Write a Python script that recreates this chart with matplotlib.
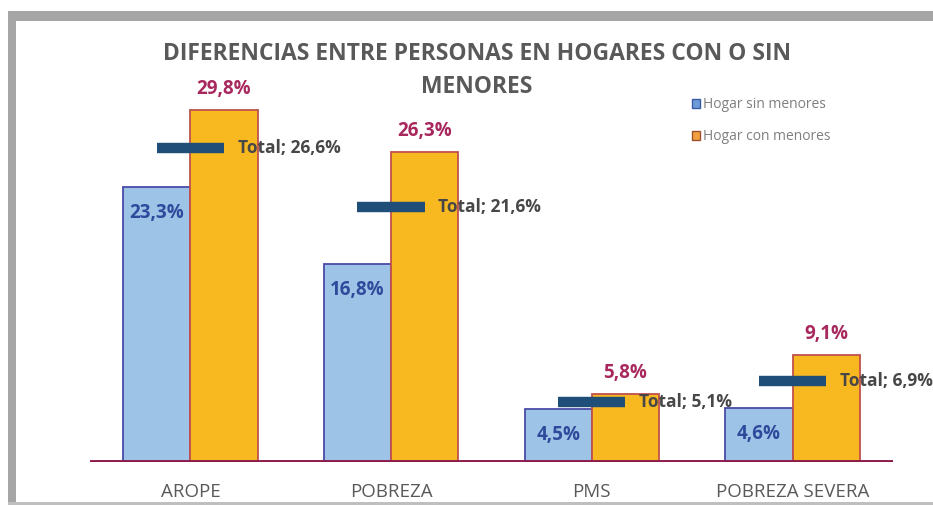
import matplotlib
matplotlib.use("Agg")
import numpy as np
from matplotlib import pyplot as plt
from matplotlib.patches import Rectangle, Patch

# data
categories = ["AROPE", "POBREZA", "PMS", "POBREZA SEVERA"]
sin_menores = [23.3, 16.8, 4.5, 4.6]
con_menores = [29.8, 26.3, 5.8, 9.1]
total = [26.6, 21.6, 5.1, 6.9]
series_names = ["Hogar sin menores", "Hogar con menores"]
title_lines = ["DIFERENCIAS ENTRE PERSONAS EN HOGARES CON O SIN", "MENORES"]


def fmt(v):
    return f"{v:.1f}%".replace(".", ",")


FONT = ["Open Sans", "DejaVu Sans"]
plt.rcParams["font.family"] = FONT

fig = plt.figure(figsize=(9.33, 5.05), dpi=100)
ax = fig.add_axes([0.0965, 0.085, 0.8605, 0.713])

x = np.arange(len(categories))
w = 0.335
b1 = ax.bar(x - w / 2, sin_menores, w, color="#9DC3E6", edgecolor="#4B4BA6",
            linewidth=1.3, label=series_names[0], zorder=2)
b2 = ax.bar(x + w / 2, con_menores, w, color="#F8B81F", edgecolor="#C0504D",
            linewidth=1.3, label=series_names[1], zorder=2)

# total markers
ax.hlines(total, x - w / 2, x + w / 2, color="#1F4E79", linewidth=7.5, zorder=3)
for xi, t in zip(x, total):
    ax.text(xi + 0.235, t, f"Total; {fmt(t)}", va="center", ha="left",
            fontsize=12.5, fontweight="bold", color="#474747", zorder=4)

for rect, v in zip(b1, sin_menores):
    ax.annotate(fmt(v), (rect.get_x() + rect.get_width() / 2, v),
                xytext=(0, -19), textcoords="offset points", ha="center",
                va="center", fontsize=13.5, fontweight="bold", color="#2F4A9C", zorder=4)
for rect, v in zip(b2, con_menores):
    ax.annotate(fmt(v), (rect.get_x() + rect.get_width() / 2, v),
                xytext=(0, 15), textcoords="offset points", ha="center",
                va="center", fontsize=13.5, fontweight="bold", color="#A8285E", zorder=4)

ax.axhline(0, color="#8B1A4A", linewidth=3.5, zorder=3)
ax.set_xlim(-0.5, 3.5)
ax.set_ylim(0, 30.5)
ax.set_xticks(x)
ax.set_xticklabels(categories, fontsize=13.5, color="#595959")
ax.tick_params(axis="x", length=0, pad=15)
ax.set_yticks([])
for s in ax.spines.values():
    s.set_visible(False)

fig.text(0.511, 1 - 54 / 505, title_lines[0], ha="center", va="center",
         fontsize=16.5, fontweight="bold", color="#595959")
fig.text(0.511, 1 - 87 / 505, title_lines[1], ha="center", va="center",
         fontsize=16.5, fontweight="bold", color="#595959")

handles = [Patch(facecolor="#6E9BD8", edgecolor="#3A5BA8"),
           Patch(facecolor="#F0A040", edgecolor="#A0522D")]
fig.legend(handles, series_names, loc="upper left", bbox_to_anchor=(0.728, 0.832),
           frameon=False, fontsize=10, labelcolor="#7F7F7F", handlelength=0.6,
           handleheight=0.6, handletextpad=0.2, labelspacing=1.2)

# gray frame around the chart area
gray = "#A6A6A6"
fig.add_artist(Rectangle((8 / 933, 1 - 21 / 505), 1, 10 / 505,
                         transform=fig.transFigure, color=gray, lw=0))
fig.add_artist(Rectangle((8 / 933, 0), 8 / 933, 1 - 11 / 505,
                         transform=fig.transFigure, color=gray, lw=0))
fig.add_artist(Rectangle((8 / 933, 0), 1, 3 / 505,
                         transform=fig.transFigure, color="#BFBFBF", lw=0))

fig.savefig("out.png", dpi=100)
